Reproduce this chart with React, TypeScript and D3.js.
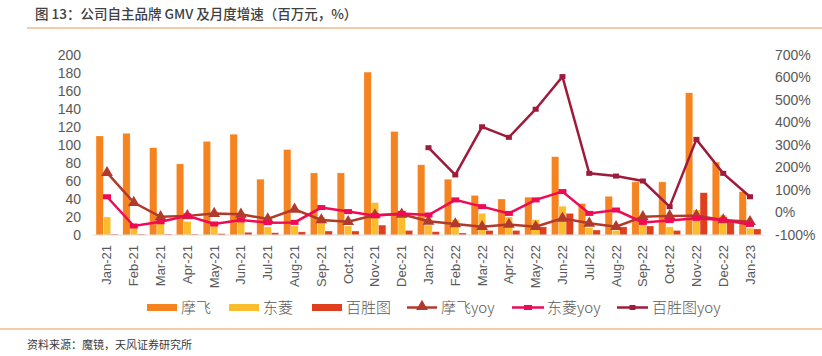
import React from "react";
import * as d3 from "d3";

const months = ["Jan-21","Feb-21","Mar-21","Apr-21","May-21","Jun-21","Jul-21","Aug-21","Sep-21","Oct-21","Nov-21","Dec-21","Jan-22","Feb-22","Mar-22","Apr-22","May-22","Jun-22","Jul-22","Aug-22","Sep-22","Oct-22","Nov-22","Dec-22","Jan-23"];
const moofei = [110,113,97,79,104,112,62,95,69,69,181,115,78,62,44,40,42,87,35,43,59,59,158,81,48];
const dongling = [20,9,13,15,11,16,9,10,20,10,36,20,11,17,24,20,17,32,8,5,13,9,28,22,7.5];
const baisheng = [1,1,1,1,1.5,3,2.5,3.5,4.4,4.4,11,5,3.7,2.2,5,5,9,24,5.5,9,10,5,47,15,6.7];
const moofeiYoy = [177,44,-19,-15,-5,-8,-29,14,-33,-41,-11,-8,-39,-51,-63,-53,-63,-26,-48,-63,-19,-15,-14,-33,-41];
const donglingYoy = [70,-60,-41,-15,-51,-33,-45,-44,22,4,-14,-4,-11,56,26,-4,56,93,-4,11,-44,-36,-26,-33,-53];
const baishengYoy: (number | null)[] = [null,null,null,null,null,null,null,null,null,null,null,null,288,167,381,334,459,604,174,162,140,26,325,174,70];
const leftTicks = [0,20,40,60,80,100,120,140,160,180,200];
const rightTicks = [-100,0,100,200,300,400,500,600,700];

const C_MOOFEI = "#F5831F";
const C_DONG = "#FBBC2D";
const C_BAI = "#DF3F1C";
const C_MYOY = "#B23A2C";
const C_DYOY = "#EE0A55";
const C_BYOY = "#9E1B3B";
const FONT = "'Liberation Sans', Arial, 'Noto Sans CJK SC', sans-serif";
const CJK = "'Noto Sans CJK SC', 'Liberation Sans', sans-serif";

export default function App() {
  const W = 822, H = 356;
  const x = d3.scaleBand<string>().domain(months).range([93.6, 763.4]).padding(0);
  const yL = d3.scaleLinear().domain([0, 200]).range([235, 55]);
  const yR = d3.scaleLinear().domain([-100, 700]).range([235, 55]);
  const bw = 7.3;
  const cx = (m: string) => (x(m) as number) + x.bandwidth() / 2;
  const series = [
    { data: moofei, color: C_MOOFEI, off: -1.5 },
    { data: dongling, color: C_DONG, off: -0.5 },
    { data: baisheng, color: C_BAI, off: 0.5 },
  ];
  const line = d3.line<[number, number | null]>()
    .defined(d => d[1] !== null)
    .x(d => d[0])
    .y(d => yR(d[1] as number));
  const pts = (arr: (number | null)[]) => arr.map((v, i) => [cx(months[i]), v] as [number, number | null]);
  const tri = d3.symbol().type(d3.symbolTriangle).size(60)();

  return (
    <svg width={W} height={H} style={{ position: "absolute", left: 0, top: 0, background: "#fff" }}>
      <text x={35} y={19} fontFamily={CJK} fontSize={13.5} fontWeight={500} fill="#404040">图 13：公司自主品牌 GMV 及月度增速（百万元，%）</text>
      <line x1={27} x2={822} y1={28} y2={28} stroke="#F5B98A" strokeWidth={1.5} />

      {leftTicks.map(t => (
        <text key={"l" + t} x={81} y={yL(t)} dy="0.35em" textAnchor="end" fontFamily={FONT} fontSize={14} fill="#595959">{t}</text>
      ))}
      {rightTicks.map(t => (
        <text key={"r" + t} x={775} y={yR(t)} dy="0.35em" textAnchor="start" fontFamily={FONT} fontSize={14} fill="#595959">{t + "%"}</text>
      ))}

      {series.map((s, si) => s.data.map((v, i) => (
        <rect key={si + "-" + i} x={cx(months[i]) + s.off * bw} y={yL(v)} width={bw} height={yL(0) - yL(v)} fill={s.color} stroke="#fff" strokeOpacity={0.5} strokeWidth={0.5} />
      )))}

      <line x1={93.6} x2={763.4} y1={235} y2={235} stroke="#D9D9D9" strokeWidth={1} />

      <path d={line(pts(moofeiYoy)) || ""} fill="none" stroke={C_MYOY} strokeWidth={2.5} />
      {moofeiYoy.map((v, i) => (
        <path key={"mt" + i} d={tri || ""} transform={`translate(${cx(months[i])},${yR(v)})`} fill={C_MYOY} />
      ))}
      <path d={line(pts(donglingYoy)) || ""} fill="none" stroke={C_DYOY} strokeWidth={2.5} />
      {donglingYoy.map((v, i) => (
        <rect key={"dr" + i} x={cx(months[i]) - 4} y={yR(v) - 2.5} width={8} height={5} fill={C_DYOY} />
      ))}
      <path d={line(pts(baishengYoy)) || ""} fill="none" stroke={C_BYOY} strokeWidth={2.5} />
      {baishengYoy.map((v, i) => v === null ? null : (
        <rect key={"br" + i} x={cx(months[i]) - 3} y={yR(v) - 2.5} width={6} height={5} fill={C_BYOY} />
      ))}

      {months.map(m => (
        <text key={"x" + m} transform={`translate(${cx(m) + 4.5},245) rotate(-90)`} textAnchor="end" fontFamily={FONT} fontSize={13} fill="#595959">{m}</text>
      ))}

      {/* legend */}
      <rect x={147} y={304} width={30} height={7} fill={C_MOOFEI} />
      <text x={181} y={312.5} fontFamily={CJK} fontSize={15} fontWeight={300} fill="#595959">摩飞</text>
      <rect x={229} y={304} width={30} height={7} fill={C_DONG} />
      <text x={263} y={312.5} fontFamily={CJK} fontSize={15} fontWeight={300} fill="#595959">东菱</text>
      <rect x={312} y={304} width={30} height={7} fill={C_BAI} />
      <text x={346} y={312.5} fontFamily={CJK} fontSize={15} fontWeight={300} fill="#595959">百胜图</text>
      <line x1={407} x2={437} y1={307.5} y2={307.5} stroke={C_MYOY} strokeWidth={2.5} />
      <path d={tri || ""} transform="translate(422,306.5)" fill={C_MYOY} />
      <text x={441} y={312.5} fontFamily={CJK} fontSize={15} fontWeight={300} fill="#595959">摩飞yoy</text>
      <line x1={512} x2={544} y1={307.5} y2={307.5} stroke={C_DYOY} strokeWidth={2.5} />
      <rect x={524} y={305} width={8} height={5} fill={C_DYOY} />
      <text x={547} y={312.5} fontFamily={CJK} fontSize={15} fontWeight={300} fill="#595959">东菱yoy</text>
      <line x1={617} x2={648} y1={307.5} y2={307.5} stroke={C_BYOY} strokeWidth={2.5} />
      <rect x={629.5} y={305} width={6} height={5} fill={C_BYOY} />
      <text x={652} y={312.5} fontFamily={CJK} fontSize={15} fontWeight={300} fill="#595959">百胜图yoy</text>

      <line x1={0} x2={822} y1={329} y2={329} stroke="#F5B98A" strokeWidth={1.5} />
      <text x={27} y={349} fontFamily={CJK} fontSize={11} fill="#3a3a3a">资料来源：魔镜，天风证券研究所</text>
    </svg>
  );
}
